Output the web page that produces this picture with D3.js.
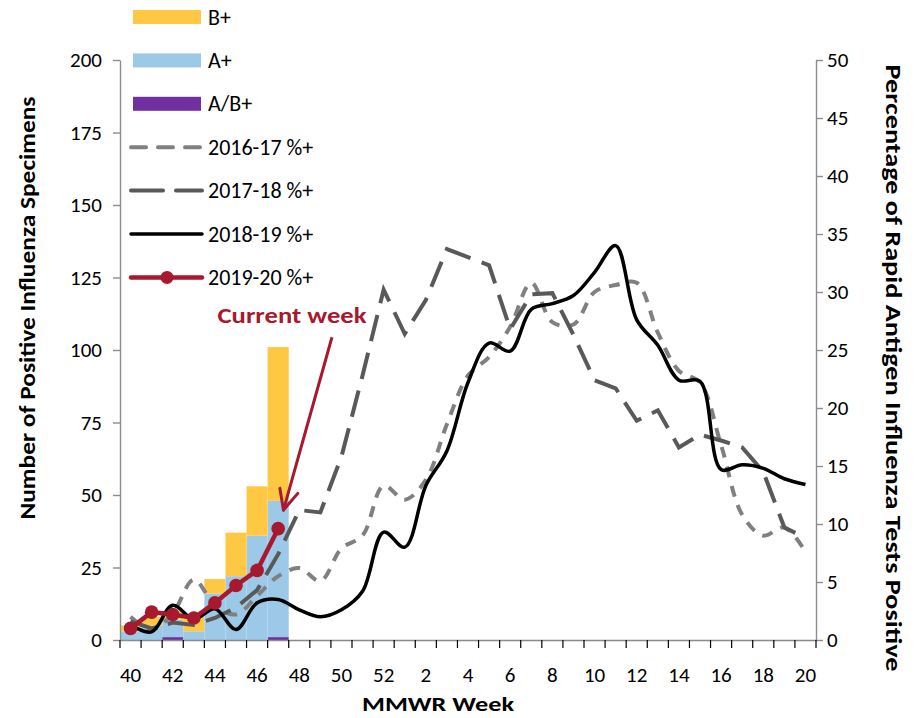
<!DOCTYPE html>
<html>
<head>
<meta charset="utf-8">
<script src="https://cdn.jsdelivr.net/npm/d3@7"></script>
<style>
  html, body { margin: 0; padding: 0; background: #fff; }
  svg text { font-family: Carlito, Lato, "Open Sans", sans-serif; }
</style>
</head>
<body>
<svg id="chart" width="916" height="718"></svg>
<script>
// ---------------- DATA ----------------
const weeks = ["40","41","42","43","44","45","46","47","48","49","50","51","52",
  "1","2","3","4","5","6","7","8","9","10","11","12","13","14","15","16","17","18","19","20"];
const barWeeks = ["40","41","42","43","44","45","46","47"];
const positiveAB = [0, 0, 1, 0, 0, 0, 0, 1];
const positiveA  = [3, 5, 6, 3, 16, 22, 36, 47];
const positiveB  = [2, 3, 3, 6, 5, 15, 17, 53];

const pct1617 = [2.0,0.9,2.3,5.2,3.0,2.2,3.8,5.5,6.2,5.1,7.9,9.0,13.3,
  12.1,13.8,18.6,22.8,24.4,27.0,30.8,27.4,27.2,30.0,30.6,30.8,26.5,23.2,22.2,16.8,10.8,9.0,9.7,7.6];
const pct1718 = [1.6,1.0,1.5,1.3,1.9,2.8,4.3,7.4,11.2,11.0,15.8,22.8,30.2,
  26.4,29.3,33.7,33.0,32.3,26.8,29.8,29.9,26.3,22.4,21.7,18.9,19.8,16.6,17.7,17.2,16.6,14.5,9.7,8.8];
const pct1819 = [1.3,0.7,3.0,1.8,2.7,0.9,3.2,3.5,2.6,2.0,2.6,4.2,9.3,
  8.0,13.3,16.3,22.2,25.6,24.9,28.5,29.0,29.7,31.7,34.0,27.6,25.4,22.4,22.3,14.7,15.1,14.8,13.9,13.4];
const pct1920 = [1.0,2.4,2.2,1.9,3.2,4.7,6.0,9.6];

const leftTicks = [0,25,50,75,100,125,150,175,200];
const rightTicks = [0,5,10,15,20,25,30,35,40,45,50];
const xLabels = ["40","42","44","46","48","50","52","2","4","6","8","10","12","14","16","18","20"];

const legendItems = ["B+","A+","A/B+","2016-17 %+","2017-18 %+","2018-19 %+","2019-20 %+"];

// ---------------- STYLES ----------------
const C = {
  B: "#FFC842", A: "#9DC9E8", AB: "#7030A0",
  l1617: "#808080", l1718: "#595959", l1819: "#000000", l1920: "#A6192E",
  axis: "#8C8C8C", text: "#000"
};

const svg = d3.select("#chart");
const M = {left: 120, right: 816, top: 60, bottom: 640};

const x = d3.scaleBand().domain(weeks).range([M.left, M.right]).padding(0);
const yL = d3.scaleLinear().domain([0, 200]).range([M.bottom, M.top]);
const yR = d3.scaleLinear().domain([0, 50]).range([M.bottom, M.top]);
const bw = x.bandwidth();
const cx = w => x(w) + bw / 2;

// ---------------- BARS ----------------
const stackData = barWeeks.map((w, i) => ({week: w, AB: positiveAB[i], A: positiveA[i], B: positiveB[i]}));
const stack = d3.stack().keys(["AB", "A", "B"])(stackData);
const barColors = {AB: C.AB, A: C.A, B: C.B};
const gBars = svg.append("g");
stack.forEach(layer => {
  gBars.selectAll(null).data(layer).enter().append("rect")
    .attr("x", d => x(d.data.week))
    .attr("width", bw)
    .attr("y", d => yL(d[1]))
    .attr("height", d => Math.max(0, yL(d[0]) - yL(d[1])))
    .attr("fill", barColors[layer.key]);
});

// ---------------- AXES ----------------
const fs = 21;
const gL = svg.append("g").attr("transform", `translate(${M.left},0)`)
  .call(d3.axisLeft(yL).tickValues(leftTicks).tickSize(7).tickPadding(11).tickSizeOuter(0));
const gR = svg.append("g").attr("transform", `translate(${M.right},0)`)
  .call(d3.axisRight(yR).tickValues(rightTicks).tickSize(7).tickPadding(4).tickSizeOuter(0));
const gB = svg.append("g").attr("transform", `translate(0,${M.bottom})`)
  .call(d3.axisBottom(x).tickValues(xLabels).tickSize(0).tickPadding(27).tickSizeOuter(0));
const bounds = weeks.map(w => x(w)).concat([M.right]);
gB.selectAll("line.bt").data(bounds).enter().append("line").attr("class", "bt")
  .attr("x1", d => d).attr("x2", d => d).attr("y1", 0).attr("y2", 8);

[gL, gR, gB].forEach(g => {
  g.selectAll("path.domain").attr("stroke", C.axis).attr("stroke-width", 1.4);
  g.selectAll("line").attr("stroke", C.axis).attr("stroke-width", 1.4);
  g.selectAll("text").attr("font-size", fs).attr("fill", C.text)
    .style("font-family", "Carlito, Lato, sans-serif");
});
gB.selectAll("line.bt").attr("stroke", "#000").attr("stroke-width", 1.2);

// ---------------- LINES ----------------
const smooth = d3.curveCatmullRom.alpha(0.5);
const lineGen = (curve) => d3.line().x((d, i) => cx(weeks[i])).y(d => yR(d)).curve(curve);

svg.append("path").datum(pct1617).attr("d", lineGen(smooth))
  .attr("fill", "none").attr("stroke", C.l1617).attr("stroke-width", 4)
  .attr("stroke-dasharray", "11,9");
svg.append("path").datum(pct1718).attr("d", lineGen(d3.curveLinear))
  .attr("fill", "none").attr("stroke", C.l1718).attr("stroke-width", 4)
  .attr("stroke-dasharray", "27,12");
svg.append("path").datum(pct1819).attr("d", lineGen(smooth))
  .attr("fill", "none").attr("stroke", C.l1819).attr("stroke-width", 3.5);
svg.append("path").datum(pct1920).attr("d", lineGen(d3.curveLinear))
  .attr("fill", "none").attr("stroke", C.l1920).attr("stroke-width", 4.5);
svg.selectAll("circle.m").data(pct1920).enter().append("circle").attr("class", "m")
  .attr("cx", (d, i) => cx(barWeeks[i])).attr("cy", d => yR(d)).attr("r", 6.8)
  .attr("fill", C.l1920);

// ---------------- AXIS TITLES ----------------
svg.append("text").attr("transform", `translate(27,308) rotate(-90)`)
  .attr("text-anchor", "middle").attr("dominant-baseline", "central")
  .attr("font-size", 23).attr("font-weight", "bold")
  .attr("textLength", 423).attr("lengthAdjust", "spacingAndGlyphs")
  .text("Number of Positive Influenza Specimens");
svg.append("text").attr("transform", `translate(894,368) rotate(90)`)
  .attr("text-anchor", "middle").attr("dominant-baseline", "central")
  .attr("font-size", 23).attr("font-weight", "bold")
  .attr("textLength", 607).attr("lengthAdjust", "spacingAndGlyphs")
  .text("Percentage of Rapid Antigen Influenza Tests Positive");
svg.append("text").attr("x", 438).attr("y", 704).attr("text-anchor", "middle")
  .attr("dominant-baseline", "central")
  .attr("font-size", 21).attr("font-weight", "bold")
  .attr("textLength", 152).attr("lengthAdjust", "spacingAndGlyphs")
  .text("MMWR Week");

// ---------------- LEGEND ----------------
const lg = svg.append("g");
const rowY = i => 17 + i * 43.4;
const sx0 = 133, sx1 = 201;
legendItems.forEach((name, i) => {
  const y = rowY(i);
  if (i < 3) {
    const col = [C.B, C.A, C.AB][i];
    lg.append("rect").attr("x", sx0).attr("y", y - 7).attr("width", sx1 - sx0).attr("height", 14).attr("fill", col);
  } else {
    const styles = [
      {c: C.l1617, w: 4, d: "15,12"},
      {c: C.l1718, w: 4, d: "32,13"},
      {c: C.l1819, w: 3.5, d: null},
      {c: C.l1920, w: 4.5, d: null}
    ][i - 3];
    const ln = lg.append("line").attr("x1", sx0 - 2).attr("x2", sx1 + 1).attr("y1", y).attr("y2", y)
      .attr("stroke", styles.c).attr("stroke-width", styles.w).attr("stroke-linecap", "round");
    if (styles.d) ln.attr("stroke-dasharray", styles.d);
    if (i === 6) lg.append("circle").attr("cx", (sx0 + sx1) / 2).attr("cy", y).attr("r", 6.5).attr("fill", styles.c);
  }
  lg.append("text").attr("x", 208).attr("y", y).attr("dominant-baseline", "central")
    .attr("font-size", 22).text(name);
});

// ---------------- ANNOTATION ----------------
const tip = [x("47") + bw * 0.75, yR(11.2)];
const start = [x("50") + bw * 0.05, yR(26.1)];
svg.append("text").attr("x", 292).attr("y", 315).attr("text-anchor", "middle")
  .attr("dominant-baseline", "central")
  .attr("font-size", 23).attr("font-weight", "bold").attr("fill", C.l1920)
  .attr("textLength", 149).attr("lengthAdjust", "spacingAndGlyphs")
  .text("Current week");
svg.append("line").attr("x1", start[0]).attr("y1", start[1]).attr("x2", tip[0]).attr("y2", tip[1])
  .attr("stroke", C.l1920).attr("stroke-width", 3);
const ang = Math.atan2(start[1] - tip[1], start[0] - tip[0]);
const hl = 22, ha = 25 * Math.PI / 180;
[ang - ha, ang + ha].forEach(a => {
  svg.append("line").attr("x1", tip[0]).attr("y1", tip[1])
    .attr("x2", tip[0] + hl * Math.cos(a)).attr("y2", tip[1] + hl * Math.sin(a))
    .attr("stroke", C.l1920).attr("stroke-width", 3).attr("stroke-linecap", "round");
});
</script>
</body>
</html>
